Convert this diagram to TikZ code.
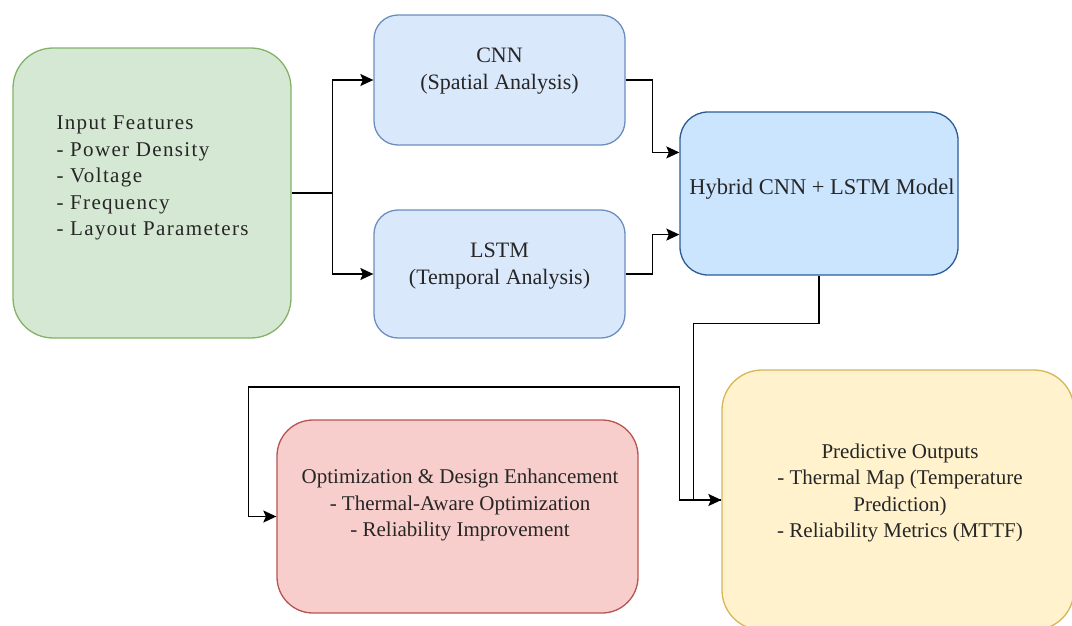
\documentclass[tikz,border=0pt]{standalone}
\usepackage{fontspec}
\setmainfont{Liberation Serif}
\newfontfamily\spacedfont[LetterSpace=6.5]{Liberation Serif}
\usetikzlibrary{arrows.meta,calc}
\definecolor{featfill}{HTML}{D5E8D4}
\definecolor{featline}{HTML}{82B366}
\definecolor{netfill}{HTML}{DAE8FC}
\definecolor{netline}{HTML}{6C8EBF}
\definecolor{hybfill}{HTML}{CCE5FF}
\definecolor{hybline}{HTML}{2B5C98}
\definecolor{outfill}{HTML}{FFF2CC}
\definecolor{outline}{HTML}{D6B656}
\definecolor{optfill}{HTML}{F8CECC}
\definecolor{optline}{HTML}{B85450}
\tikzset{
box/.style={draw, rectangle, line width=1.3pt, inner sep=0pt},
featbox/.style={box, fill=featfill, draw=featline, rounded corners=40pt,
    minimum width=278pt, minimum height=290pt},
netbox/.style={box, fill=netfill, draw=netline, rounded corners=24pt,
    minimum width=251pt, minimum height=130pt},
hybbox/.style={box, fill=hybfill, draw=hybline, rounded corners=28pt,
    minimum width=278pt, minimum height=163pt},
outbox/.style={box, fill=outfill, draw=outline, rounded corners=40pt,
    minimum width=352pt, minimum height=260pt},
optbox/.style={box, fill=optfill, draw=optline, rounded corners=36pt,
    minimum width=361pt, minimum height=193pt},
txt/.style={align=center, text=black!85, font=\fontsize{21}{26.5}\selectfont},
conn/.style={line width=1.4pt, -{Stealth[length=13pt,width=12pt,inset=2.5pt]}}
}

\begin{document}
\begin{tikzpicture}[x=1pt, y=-1pt]
	\useasboundingbox (0,0) rectangle (1072,625);
	% boxes
	\node[featbox] (inp) at (152,193) {};
	\node[netbox] (cnn) at (499.5,80) {};
	\node[netbox, minimum height=128pt] (lstm) at (499.5,274) {};
	\node[hybbox] (hyb) at (819,193.5) {};
	\node[outbox] (out) at (898,500) {};
	\node[optbox] (opt) at (457.5,516.5) {};
	% texts
	\node[txt, align=left, anchor=west, font=\spacedfont\fontsize{21}{26.5}\selectfont]
		(inptxt) at (53,178) {Input Features\\- Power Density\\- Voltage\\- Frequency\\- Layout Parameters};
	\node[txt, font=\fontsize{22}{27}\selectfont] (cnntxt) at (499.5,71.5) {CNN\\(Spatial Analysis)};
	\node[txt, font=\fontsize{22}{27}\selectfont] (lstmtxt) at (499.5,266.5) {LSTM\\(Temporal Analysis)};
	\node[txt, font=\fontsize{22.5}{27}\selectfont] (hybtxt) at (822,189) {Hybrid CNN + LSTM Model};
	\node[txt] (outtxt) at (900,493) {Predictive Outputs\\- Thermal Map (Temperature\\Prediction)\\- Reliability Metrics (MTTF)};
	\node[txt] (opttxt) at (460,505) {Optimization \& Design Enhancement\\- Thermal-Aware Optimization\\- Reliability Improvement};
	% connectors
	\draw[conn] (inp.east) -- ++(41,0) |- (cnn.west);
	\draw[conn] (inp.east) -- ++(41,0) |- (lstm.west);
	\draw[conn] (cnn.east) -- ++(27,0) |- ($(hyb.north west)!.25!(hyb.south west)$);
	\draw[conn] (lstm.east) -- ++(27,0) |- ($(hyb.north west)!.75!(hyb.south west)$);
	\draw[conn] (hyb.south) -- ++(0,48) -| ($(out.west)+(-28,0)$) -- (out.west);
	\draw[conn] (out.west) -- ++(-42,0) -- ++(0,-113) -| ($(opt.west)+(-28,0)$) -- (opt.west);
\end{tikzpicture}
\end{document}
